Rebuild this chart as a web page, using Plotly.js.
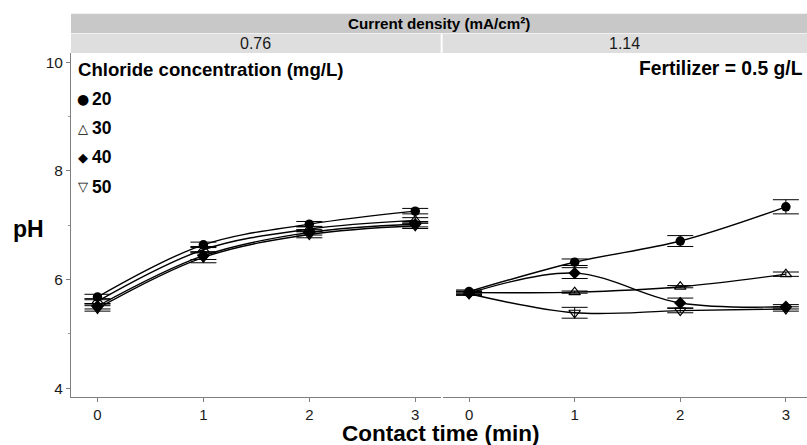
<!DOCTYPE html>
<html>
<head>
<meta charset="utf-8">
<script src="https://cdn.plot.ly/plotly-3.0.1.min.js"></script>
<style>html,body{margin:0;padding:0;background:#fff;}#chart{width:807px;height:445px;}</style>
</head>
<body>
<div id="chart"></div>
<script>
// ---- data ----
const time = [0, 1, 2, 3];
const chloride = ["20", "30", "40", "50"];
const symbols = ["circle", "triangle-up-open", "diamond", "triangle-down-open"];
const legendGlyphs = ["\u25CF", "\u25B3", "\u25C6", "\u25BD"];
const panels = ["0.76", "1.14"];

// current density 0.76 mA/cm2
const ph076_20 = [5.68, 6.64, 7.02, 7.26];
const ph076_30 = [5.60, 6.55, 6.93, 7.09];
const ph076_40 = [5.51, 6.44, 6.87, 7.02];
const ph076_50 = [5.47, 6.41, 6.83, 6.99];
const err076_20 = [0.05, 0.05, 0.05, 0.05];
const err076_30 = [0.05, 0.06, 0.05, 0.05];
const err076_40 = [0.05, 0.07, 0.05, 0.05];
const err076_50 = [0.05, 0.10, 0.06, 0.05];

// current density 1.14 mA/cm2
const ph114_20 = [5.78, 6.32, 6.71, 7.34];
const ph114_30 = [5.76, 5.77, 5.87, 6.10];
const ph114_40 = [5.75, 6.12, 5.57, 5.50];
const ph114_50 = [5.74, 5.39, 5.43, 5.46];
const err114_20 = [0.03, 0.06, 0.10, 0.13];
const err114_30 = [0.03, 0.02, 0.02, 0.04];
const err114_40 = [0.03, 0.10, 0.09, 0.04];
const err114_50 = [0.03, 0.10, 0.04, 0.04];

const yTicks = [4, 6, 8, 10];
const xTicks = [0, 1, 2, 3];

// ---- build ----
const left = [ph076_20, ph076_30, ph076_40, ph076_50];
const leftErr = [err076_20, err076_30, err076_40, err076_50];
const right = [ph114_20, ph114_30, ph114_40, ph114_50];
const rightErr = [err114_20, err114_30, err114_40, err114_50];

const traces = [];
function addSeries(vals, errs, xa) {
  vals.forEach((v, i) => {
    const open = symbols[i].indexOf("open") >= 0;
    traces.push({
      x: time, y: v, xaxis: xa, yaxis: "y",
      type: "scatter", mode: "lines+markers",
      name: chloride[i], showlegend: false,
      line: {shape: "spline", smoothing: 1, color: "#000", width: 1.4},
      marker: {symbol: symbols[i], size: open ? 10 : 9.5,
               color: "#000", line: {color: "#000", width: open ? 1.2 : 0}},
      error_y: {type: "data", array: errs[i], visible: true, width: 13, thickness: 1, color: "#000"}
    });
  });
}
addSeries(left, leftErr, "x");
addSeries(right, rightErr, "x2");

// geometry (paper coords)
const L = 70.7, R = 807, T = 53.3, B = 397.3;
const PW = R - L, PH = B - T;
const px = v => (v - L) / PW;
const py = v => (B - v) / PH;
const splitL = px(440.5), splitR = px(442.5);
const FAM = "Liberation Sans, Arial, sans-serif";

const axisCommon = {
  showgrid: false, zeroline: false, showline: true, linecolor: "#7f7f7f", linewidth: 1,
  ticks: "outside", ticklen: 4, tickcolor: "#7f7f7f", tickwidth: 1,
  tickfont: {family: FAM, size: 15, color: "#1a1a1a"},
  tickvals: xTicks, ticktext: xTicks.map(String), fixedrange: true
};

const annFont = s => ({family: FAM, size: s, color: "#000"});
const annotations = [
  {text: "<b>Current density (mA/cm\u00B2)</b>", x: (px(L) + 1) / 2, y: py(23.8), xref: "paper", yref: "paper",
   showarrow: false, font: annFont(15.2), xanchor: "center", yanchor: "middle"},
  {text: panels[0], x: splitL / 2, y: py(43.5), xref: "paper", yref: "paper",
   showarrow: false, font: {family: FAM, size: 16, color: "#1a1a1a"}, xanchor: "center", yanchor: "middle"},
  {text: panels[1], x: (splitR + 1) / 2, y: py(43.5), xref: "paper", yref: "paper",
   showarrow: false, font: {family: FAM, size: 16, color: "#1a1a1a"}, xanchor: "center", yanchor: "middle"},
  {text: "<b>Chloride concentration (mg/L)</b>", x: px(75.5), y: py(70), xref: "paper", yref: "paper",
   showarrow: false, font: annFont(18.6), xanchor: "left", yanchor: "middle"},
  {text: "<b>Fertilizer = 0.5 g/L</b>", x: px(804.5), y: py(69), xref: "paper", yref: "paper",
   showarrow: false, font: annFont(19.3), xanchor: "right", yanchor: "middle"},
  {text: "<b>pH</b>", x: px(28), y: py(229), xref: "paper", yref: "paper",
   showarrow: false, font: annFont(23), xanchor: "center", yanchor: "middle"},
  {text: "<b>Contact time (min)</b>", x: px(440.5), y: py(434), xref: "paper", yref: "paper",
   showarrow: false, font: annFont(22.5), xanchor: "center", yanchor: "middle"}
];
const itemY = [99.5, 128.5, 157.5, 187];
chloride.forEach((c, i) => {
  annotations.push({text: legendGlyphs[i], x: px(82.5), y: py(itemY[i]), xref: "paper", yref: "paper",
    showarrow: false, font: {family: "DejaVu Sans, sans-serif", size: i === 0 ? 14 : 13, color: "#000"},
    xanchor: "center", yanchor: "middle"});
  annotations.push({text: "<b>" + c + "</b>", x: px(90), y: py(itemY[i]), xref: "paper", yref: "paper",
    showarrow: false, font: annFont(17.5), xanchor: "left", yanchor: "middle"});
});

const shapes = [
  {type: "rect", xref: "paper", yref: "paper", x0: px(L), x1: 1, y0: py(33.5), y1: py(14),
   fillcolor: "#c8c8c8", line: {width: 0}, layer: "below"},
  {type: "rect", xref: "paper", yref: "paper", x0: px(L), x1: splitL, y0: 1, y1: py(34.3),
   fillcolor: "#dedede", line: {width: 0}, layer: "below"},
  {type: "rect", xref: "paper", yref: "paper", x0: splitR, x1: 1, y0: 1, y1: py(34.3),
   fillcolor: "#dedede", line: {width: 0}, layer: "below"}
];

const layout = {
  width: 807, height: 445,
  margin: {l: L, r: 0, t: T, b: 445 - B, pad: 0},
  paper_bgcolor: "#fff", plot_bgcolor: "#fff",
  showlegend: false,
  xaxis: Object.assign({}, axisCommon, {domain: [0, splitL], range: [-0.25, 3.24], anchor: "y"}),
  xaxis2: Object.assign({}, axisCommon, {domain: [splitR, 1], range: [-0.25, 3.2], anchor: "y"}),
  yaxis: {
    domain: [0, 1], range: [3.84, 10.17], anchor: "x",
    showgrid: false, zeroline: false, showline: true, linecolor: "#7f7f7f", linewidth: 1,
    ticks: "outside", ticklen: 4, tickcolor: "#7f7f7f", tickwidth: 1,
    tickvals: yTicks, ticktext: yTicks.map(String),
    tickfont: {family: FAM, size: 15.5, color: "#1a1a1a"},
    minor: {tickvals: [5, 7, 9], ticks: "outside", ticklen: 2, tickcolor: "#9a9a9a", showgrid: false},
    fixedrange: true
  },
  annotations: annotations,
  shapes: shapes
};

Plotly.newPlot("chart", traces, layout, {displayModeBar: false, staticPlot: true});
</script>
</body>
</html>
